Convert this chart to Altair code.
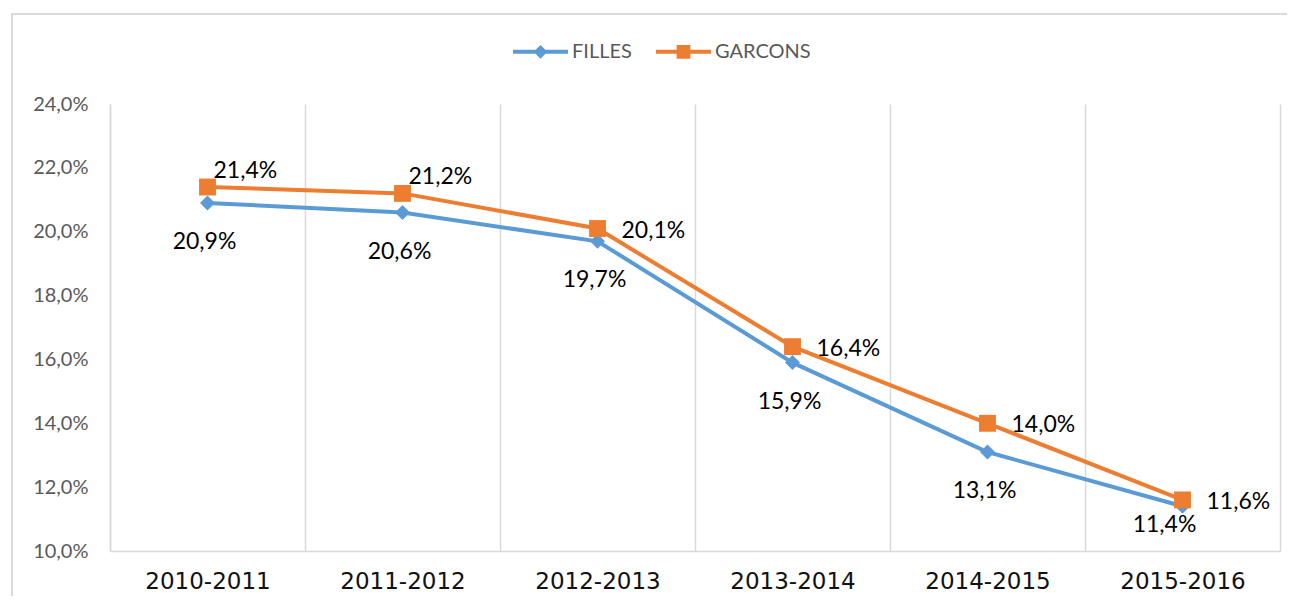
import altair as alt
import pandas as pd

annees = ["2010-2011", "2011-2012", "2012-2013", "2013-2014", "2014-2015", "2015-2016"]
filles = [20.9, 20.6, 19.7, 15.9, 13.1, 11.4]
garcons = [21.4, 21.2, 20.1, 16.4, 14.0, 11.6]
series = ["FILLES", "GARCONS"]
colors = ["#5B9BD5", "#ED7D31"]
y_ticks = [10, 12, 14, 16, 18, 20, 22, 24]

rows = []
for s, vals in zip(series, [filles, garcons]):
    for a, v in zip(annees, vals):
        rows.append({"annee": a, "serie": s, "val": v})
df = pd.DataFrame(rows)

W, H = 1170, 447
GRID = "#d9d9d9"
FONT = "Lato"

x = alt.X(
    "annee:N", sort=annees,
    scale=alt.Scale(type="band", paddingInner=0, paddingOuter=0),
    axis=alt.Axis(title=None, labelAngle=0, tickBand="extent", grid=True,
                  gridColor=GRID, gridWidth=1.5, ticks=False, domainColor=GRID,
                  domainWidth=1.5, labelFont="DejaVu Sans", labelFontSize=23,
                  labelColor="#111111", labelPadding=19),
)
y = alt.Y(
    "val:Q",
    scale=alt.Scale(domain=[10, 24], nice=False, zero=False),
    axis=alt.Axis(title=None, values=y_ticks, grid=False, ticks=False,
                  domainColor=GRID, domainWidth=1.5, labelFont=FONT,
                  labelFontSize=20, labelColor="#595959", labelPadding=22,
                  labelExpr="replace(format(datum.value, '.1f'), '.', ',') + '%'"),
)

color_nolegend = alt.Color("serie:N", scale=alt.Scale(domain=series, range=colors), legend=None)

base = alt.Chart(df)

lines = base.mark_line(strokeWidth=4).encode(x=x, y=y, color=color_nolegend, detail="serie:N")

points = base.mark_point(filled=True, opacity=1, strokeWidth=0).encode(
    x=x, y=y, color=color_nolegend,
    shape=alt.Shape("serie:N", scale=alt.Scale(domain=series, range=["diamond", "square"]), legend=None),
    size=alt.Size("serie:N", scale=alt.Scale(domain=series, range=[225, 285]), legend=None),
)

leg = alt.Legend(title=None, orient="none", legendX=403, legendY=-80, direction="horizontal",
                 symbolSize=3025, symbolOpacity=1, symbolStrokeWidth=0, labelFont=FONT,
                 labelFontSize=20, labelColor="#595959", labelOffset=4, columnPadding=24,
                 padding=0)
p_diamond = "M-1,-0.073H1V0.073H-1Z M0,-0.25L0.25,0L0,0.25L-0.25,0Z"
p_square = "M-1,-0.073H1V0.073H-1Z M-0.25,-0.25H0.25V0.25H-0.25Z"
legend_layer = base.mark_point(filled=True, opacity=0).encode(
    x=x, y=y,
    color=alt.Color("serie:N", scale=alt.Scale(domain=series, range=colors), legend=leg),
    shape=alt.Shape("serie:N", scale=alt.Scale(domain=series, range=[p_diamond, p_square]), legend=leg),
)

lab = base.transform_calculate(
    label="replace(format(datum.val, '.1f'), '.', ',') + '%'"
)
txt = dict(font=FONT, fontSize=23, color="#000000")
f_lab = lab.transform_filter((alt.datum.serie == "FILLES") & (alt.datum.annee != "2015-2016")).mark_text(
    align="center", baseline="middle", dx=-3, dy=39, **txt).encode(x=x, y=y, text="label:N")
f_last = lab.transform_filter((alt.datum.serie == "FILLES") & (alt.datum.annee == "2015-2016")).mark_text(
    align="center", baseline="middle", dx=-18, dy=19, **txt).encode(x=x, y=y, text="label:N")
g_first = lab.transform_filter((alt.datum.serie == "GARCONS") & ((alt.datum.annee == "2010-2011") | (alt.datum.annee == "2011-2012"))).mark_text(
    align="left", baseline="middle", dx=6, dy=-16, **txt).encode(x=x, y=y, text="label:N")
g_rest = lab.transform_filter((alt.datum.serie == "GARCONS") & (alt.datum.annee != "2010-2011") & (alt.datum.annee != "2011-2012")).mark_text(
    align="left", baseline="middle", dx=24, dy=2, **txt).encode(x=x, y=y, text="label:N")

frame = alt.Chart(pd.DataFrame({"k": [0]})).mark_rect(fill=None, stroke=GRID, strokeWidth=2, clip=False).encode(
    x=alt.value(-98), x2=alt.value(1300), y=alt.value(-90), y2=alt.value(600))

chart = alt.layer(frame, lines, points, legend_layer, f_lab, f_last, g_first, g_rest).resolve_scale(
    color="independent", shape="independent", size="independent"
).properties(
    width=W, height=H,
    padding={"left": 102, "top": 96, "right": 7, "bottom": 45},
    autosize=alt.AutoSizeParams(type="none"),
).configure_view(stroke=None)

chart.save("out.html", embed_options={"renderer": "svg", "actions": False})
